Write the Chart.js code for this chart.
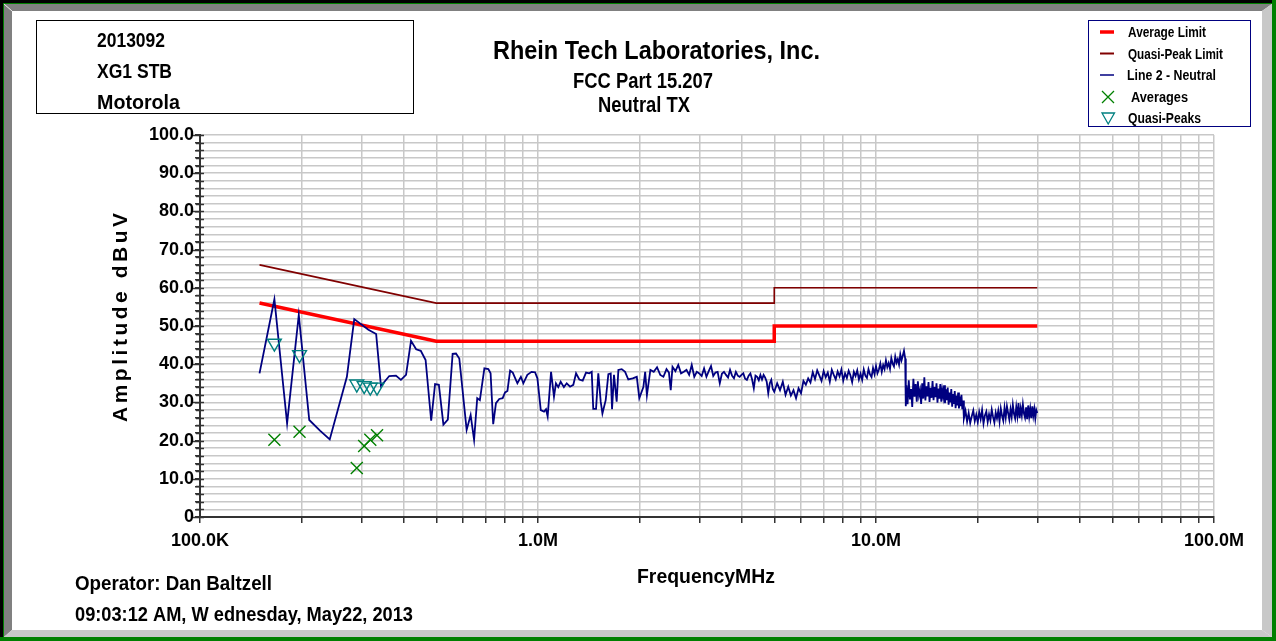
<!DOCTYPE html>
<html><head><meta charset="utf-8">
<script src="https://cdn.jsdelivr.net/npm/chart.js@4.4.1/dist/chart.umd.min.js"></script>
<style>html,body{margin:0;padding:0;background:#fff;overflow:hidden}canvas{display:block}</style>
</head><body>
<canvas id="c" width="1276" height="641"></canvas>
<script>
// ---------------- DATA ----------------
const avgLimitMHz = [0.15, 0.5, 5, 5, 30];
const avgLimitDbuv = [56, 46, 46, 50, 50];
const qpLimitMHz = [0.15, 0.5, 5, 5, 30];
const qpLimitDbuv = [66, 56, 56, 60, 60];

const measuredMHz = [0.166, 0.197, 0.291, 0.306, 0.319, 0.334];
const averagesDbuv = [20.2, 22.3, 12.8, 18.6, 20.2, 21.4];
const quasiPeaksDbuv = [45.5, 42.5, 34.8, 34.4, 34.0, 34.0];

// Line 2 - Neutral trace, [MHz, dBuV]
const neutralLow = [
 [0.150,37.6],[0.166,57.0],[0.181,24.5],[0.196,52.9],[0.2105,25.4],[0.2265,22.6],[0.242,20.3],[0.272,36.7],[0.286,51.8],[0.315,49.0],
 [0.332,47.9],[0.343,34.3],[0.363,36.9],[0.380,37.0],[0.393,35.9],[0.407,37.2],[0.421,46.1],[0.436,43.9],[0.450,43.5],[0.465,41.1],
 [0.483,25.2],[0.496,34.8],[0.509,34.6],[0.525,24.2],[0.541,25.5],[0.559,42.7],[0.572,42.8],[0.585,41.5],[0.615,22.8],[0.632,26.7],
 [0.647,20.2],[0.661,31.1],[0.673,30.6],[0.694,38.9],[0.713,38.7],[0.724,37.6],[0.737,24.3],[0.751,29.8],[0.768,30.9],[0.786,31.1],
 [0.799,32.6],[0.812,33.0],[0.827,38.3],[0.842,37.8],[0.869,35.0],[0.890,36.7],[0.905,35.0],[0.930,37.2],[0.957,38.0],[0.980,37.9],
 [0.996,36.3]
];
const neutralMid = [
 [1.019,28.0],[1.042,27.6],[1.056,28.2],[1.068,26.3],[1.093,38.0],[1.115,31.5],[1.130,35.0],[1.148,34.0],[1.167,35.4],[1.193,34.0],
 [1.216,35.0],[1.244,34.1],[1.272,34.6],[1.296,37.6],[1.325,36.0],[1.356,35.7],[1.387,37.8],[1.418,37.6],[1.442,38.0],[1.457,28.3],
 [1.485,28.3],[1.508,37.6],[1.533,30.2],[1.551,27.1],[1.586,30.6],[1.615,37.4],[1.641,37.6],[1.656,28.2],[1.678,37.2],[1.709,30.2],
 [1.729,38.5],[1.769,38.7],[1.810,38.0],[1.850,36.0],[1.906,36.3],[1.960,36.7],[1.994,31.1],
 [2.05,34.0],[2.075,38.0],[2.10,31.9],[2.15,38.5],[2.20,38.0],[2.25,39.2],[2.30,37.2],[2.35,36.7],[2.40,38.7],[2.44,37.8],
 [2.47,33.2],[2.50,39.3],[2.55,38.2],[2.60,39.8],[2.65,37.6],[2.70,38.0],[2.75,38.5],[2.80,37.2],[2.85,39.8],[2.90,36.7],
 [2.95,38.0],[3.00,37.6],[3.05,36.9],[3.10,38.9],[3.15,36.7],[3.20,38.2],[3.25,39.5],[3.30,36.9],[3.35,37.8],[3.40,38.0],
 [3.45,35.0],[3.50,37.5],[3.55,38.0],[3.60,37.2],[3.65,36.5],[3.70,38.5],[3.75,37.0],[3.80,36.3],[3.85,38.0],[3.90,37.0],
 [3.95,36.7],[4.00,37.2],[4.05,37.6],[4.10,36.2],[4.15,35.9],[4.20,37.0],[4.25,37.6],[4.30,36.0],[4.35,33.7],[4.40,37.0],
 [4.45,36.7],[4.50,35.8],[4.55,37.2],[4.60,36.0],[4.65,37.2],[4.70,36.5],[4.75,35.4],[4.80,32.4],[4.85,35.0],[4.90,35.9],
 [4.95,33.5]
];
const neutralHigh = [
 [5.0,32.8],[5.1,35.0],[5.2,33.2],[5.3,35.4],[5.4,32.0],[5.5,34.1],[5.6,31.8],[5.7,33.2],[5.8,31.1],[5.9,33.7],
 [6.0,32.4],[6.1,35.6],[6.2,34.6],[6.3,36.3],[6.4,35.2],[6.5,37.9],[6.6,36.1],[6.7,38.4],[6.8,37.0],[6.9,35.6],
 [7.0,38.2],[7.1,36.6],[7.2,37.8],[7.3,35.4],[7.4,38.5],[7.5,37.2],[7.6,36.0],[7.7,38.1],[7.8,36.8],[7.9,38.6],
 [8.0,35.7],[8.1,37.6],[8.2,36.4],[8.3,38.3],[8.4,37.1],[8.5,35.3],[8.6,38.0],[8.7,36.9],[8.8,38.4],[8.9,36.0],
 [9.0,37.5],[9.1,35.9],[9.2,38.6],[9.3,37.0],[9.4,36.4],[9.5,38.7],[9.6,37.3],[9.7,36.6],[9.8,39.0],[9.9,37.4],
 [10.0,39.5],[10.1,37.6],[10.2,38.6],[10.3,40.2],[10.4,38.0],[10.5,39.8],[10.6,38.7],[10.7,41.0],[10.8,39.2],[10.9,40.3],
 [11.0,38.8],[11.1,41.6],[11.2,40.1],[11.3,39.4],[11.4,42.0],[11.5,40.4],[11.6,41.3],[11.7,39.9],[11.8,42.6],[11.9,41.0],
 [12.0,42.2],[12.1,43.5],[12.2,41.5],[12.25,29.0],
 [12.3,34.5],[12.4,29.5],[12.5,35.8],[12.6,30.8],[12.7,33.5],[12.8,28.8],[12.9,36.2],[13.0,31.5],[13.1,34.8],[13.2,30.2],
 [13.3,35.5],[13.4,31.8],[13.5,33.2],[13.6,29.6],[13.7,35.0],[13.8,31.0],[13.9,36.6],[14.0,30.5],[14.1,34.2],[14.2,31.6],
 [14.3,35.3],[14.4,30.1],[14.5,33.8],[14.6,31.2],[14.7,35.6],[14.8,30.6],[14.9,34.0],[15.0,31.4],[15.1,35.0],[15.2,29.9],
 [15.3,33.6],[15.4,31.0],[15.5,34.8],[15.6,30.2],[15.7,33.2],[15.8,31.5],[15.9,34.5],[16.0,29.8],[16.1,33.4],[16.2,30.6],
 [16.3,33.9],[16.4,29.4],[16.5,32.6],[16.6,30.0],[16.7,33.5],[16.8,28.9],[16.9,32.2],[17.0,29.6],[17.1,33.0],[17.2,28.5],
 [17.3,31.8],[17.4,29.2],[17.5,32.6],[17.6,28.4],[17.7,31.5],[17.8,29.0],[17.9,32.0],[18.0,28.2],[18.1,30.5],[18.2,25.8],
 [18.4,27.8],[18.6,25.0],[18.8,27.2],[19.0,24.6],[19.2,26.4],[19.4,27.9],[19.6,25.1],[19.8,26.8],[20.0,24.8],[20.2,27.5],
 [20.4,25.6],[20.6,28.0],[20.8,24.5],[21.0,26.6],[21.2,27.6],[21.4,24.9],[21.6,26.9],[21.8,25.3],[22.0,28.1],[22.2,26.2],
 [22.4,24.7],[22.6,27.3],[22.8,25.8],[23.0,27.8],[23.2,25.0],[23.4,28.4],[23.6,26.5],[23.8,25.2],[24.0,28.6],[24.2,26.0],
 [24.4,29.0],[24.6,27.2],[24.8,25.5],[25.0,28.2],[25.2,26.2],[25.4,29.4],[25.6,27.0],[25.8,25.8],[26.0,28.8],[26.2,26.4],
 [26.4,29.8],[26.6,25.9],[26.8,28.5],[27.0,26.6],[27.2,29.5],[27.4,27.1],[27.6,26.0],[27.8,28.7],[28.0,25.6],[28.2,29.2],
 [28.4,26.3],[28.6,28.4],[28.8,25.9],[29.0,29.0],[29.2,26.5],[29.4,28.3],[29.6,25.8],[29.8,28.0],[30.0,27.2]
];

const xGridMHz = [0.1,0.2,0.3,0.4,0.5,0.6,0.7,0.8,0.9,1,2,3,4,5,6,7,8,9,10,20,30,40,50,60,70,80,90,100];
const xDecadeMHz = [0.1, 1, 10, 100];
const xDecadeLabels = ['100.0K', '1.0M', '10.0M', '100.0M'];
const yTickLabels = ['0','10.0','20.0','30.0','40.0','50.0','60.0','70.0','80.0','90.0','100.0'];

const infoLines = ['2013092', 'XG1 STB', 'Motorola'];
const titleLines = ['Rhein Tech Laboratories, Inc.', 'FCC Part 15.207', 'Neutral TX'];
const legendLabels = ['Average Limit', 'Quasi-Peak Limit', 'Line 2 - Neutral', 'Averages', 'Quasi-Peaks'];
const xAxisTitle = 'FrequencyMHz';
const yAxisTitle = 'Amplitude dBuV';
const footerLines = ['Operator: Dan Baltzell', '09:03:12 AM, W ednesday, May22, 2013'];

// ---------------- STYLE ----------------
const FONT = '"Liberation Sans", Arial, Helvetica, sans-serif';
const C_AVG = '#ff0000', C_QP = '#800000', C_LINE = '#000080', C_AVGPT = '#008000', C_QPPT = '#008080';

const toXY = (xs, ys) => xs.map((x, i) => ({x: x, y: ys[i]}));
const pairs = (arr) => arr.map(p => ({x: p[0], y: p[1]}));

function drawFit(ctx, text, left, baseline, size, width, color) {
  ctx.save();
  ctx.font = 'bold ' + size + 'px ' + FONT;
  ctx.fillStyle = color || '#000';
  ctx.textAlign = 'left';
  ctx.textBaseline = 'alphabetic';
  if ('letterSpacing' in ctx) ctx.letterSpacing = '0px';
  const w = ctx.measureText(text).width;
  if (w > width) {
    ctx.fillText(text, left, baseline, width);
  } else {
    if ('letterSpacing' in ctx && text.length > 1) ctx.letterSpacing = ((width - w) / (text.length - 1)) + 'px';
    ctx.fillText(text, left, baseline);
  }
  ctx.restore();
}

const framePlugin = {
  id: 'frame',
  beforeDraw(chart) {
    const ctx = chart.ctx, W = chart.width, H = chart.height;
    ctx.save();
    ctx.fillStyle = '#ffffff'; ctx.fillRect(0, 0, W, H);
    ctx.fillStyle = '#000000';
    ctx.fillRect(0, 0, W, 3); ctx.fillRect(0, 0, 3, H);
    ctx.fillStyle = '#008000';
    ctx.fillRect(3, 3, W - 3, 1); ctx.fillRect(3, 3, 1, H - 3);
    ctx.fillRect(W - 4, 0, 4, H); ctx.fillRect(0, H - 4, W, 4);
    ctx.fillStyle = '#808080';
    ctx.beginPath(); ctx.moveTo(4, 4); ctx.lineTo(W - 4, 4); ctx.lineTo(W - 14, 11); ctx.lineTo(12, 11); ctx.closePath(); ctx.fill();
    ctx.beginPath(); ctx.moveTo(4, 4); ctx.lineTo(12, 11); ctx.lineTo(12, H - 11); ctx.lineTo(4, H - 4); ctx.closePath(); ctx.fill();
    ctx.fillStyle = '#c8c8c8';
    ctx.beginPath(); ctx.moveTo(W - 4, 4); ctx.lineTo(W - 4, H - 4); ctx.lineTo(W - 14, H - 11); ctx.lineTo(W - 14, 11); ctx.closePath(); ctx.fill();
    ctx.beginPath(); ctx.moveTo(4, H - 4); ctx.lineTo(W - 4, H - 4); ctx.lineTo(W - 14, H - 11); ctx.lineTo(12, H - 11); ctx.closePath(); ctx.fill();
    ctx.strokeStyle = '#e8e8e8'; ctx.lineWidth = 1;
    ctx.beginPath(); ctx.moveTo(4, 4); ctx.lineTo(12, 11); ctx.stroke();
    ctx.restore();
  },
  afterDraw(chart) {
    const ctx = chart.ctx;
    ctx.save();
    const ys = chart.scales.y, xa = chart.chartArea.left;
    ctx.strokeStyle = '#333'; ctx.lineWidth = 1.5;
    ys.ticks.forEach(t => {
      const py = Math.round(ys.getPixelForValue(t.value)) + 0.5;
      const len = (t.value % 10 === 0) ? 7 : 4;
      ctx.beginPath(); ctx.moveTo(xa - len, py); ctx.lineTo(xa + 4, py); ctx.stroke();
    });
    // info box
    ctx.strokeStyle = '#000'; ctx.lineWidth = 1;
    ctx.strokeRect(36.5, 20.5, 377, 93);
    drawFit(ctx, infoLines[0], 97, 47, 21, 68);
    drawFit(ctx, infoLines[1], 97, 78, 21, 75);
    drawFit(ctx, infoLines[2], 97, 109, 21, 83);
    // title
    drawFit(ctx, titleLines[0], 493, 59, 26, 327);
    drawFit(ctx, titleLines[1], 573, 88, 22, 140);
    drawFit(ctx, titleLines[2], 598, 112, 22, 92);
    // legend
    ctx.strokeStyle = '#000080'; ctx.lineWidth = 1;
    ctx.strokeRect(1088.5, 20.5, 162, 106);
    ctx.lineCap = 'butt';
    ctx.strokeStyle = C_AVG; ctx.lineWidth = 3.5;
    ctx.beginPath(); ctx.moveTo(1100, 32); ctx.lineTo(1114, 32); ctx.stroke();
    ctx.strokeStyle = C_QP; ctx.lineWidth = 2;
    ctx.beginPath(); ctx.moveTo(1100, 53.5); ctx.lineTo(1114, 53.5); ctx.stroke();
    ctx.strokeStyle = C_LINE; ctx.lineWidth = 1.5;
    ctx.beginPath(); ctx.moveTo(1100, 75); ctx.lineTo(1114, 75); ctx.stroke();
    ctx.strokeStyle = C_AVGPT; ctx.lineWidth = 1.3;
    ctx.beginPath(); ctx.moveTo(1102, 91); ctx.lineTo(1114, 103); ctx.moveTo(1114, 91); ctx.lineTo(1102, 103); ctx.stroke();
    ctx.strokeStyle = C_QPPT; ctx.lineWidth = 1.3;
    ctx.beginPath(); ctx.moveTo(1102, 113); ctx.lineTo(1114.5, 113); ctx.lineTo(1108.2, 124); ctx.closePath(); ctx.stroke();
    drawFit(ctx, legendLabels[0], 1128, 37, 14, 78);
    drawFit(ctx, legendLabels[1], 1128, 58.5, 14, 95);
    drawFit(ctx, legendLabels[2], 1127, 80, 14, 89);
    drawFit(ctx, legendLabels[3], 1131, 102, 14, 57);
    drawFit(ctx, legendLabels[4], 1128, 123, 14, 73);
    // axis titles
    drawFit(ctx, xAxisTitle, 637, 583, 21, 138);
    ctx.save();
    ctx.translate(127, 422); ctx.rotate(-Math.PI / 2);
    drawFit(ctx, yAxisTitle, 0, 0, 21, 209);
    ctx.restore();
    // footer
    drawFit(ctx, footerLines[0], 75, 590, 21, 197);
    drawFit(ctx, footerLines[1], 75, 621, 21, 338);
    ctx.restore();
  }
};

const tickFont = {family: FONT, size: 18, weight: 'bold'};

new Chart(document.getElementById('c'), {
  type: 'scatter',
  data: {
    datasets: [
      {label: legendLabels[0], data: toXY(avgLimitMHz, avgLimitDbuv), showLine: true, borderColor: C_AVG, borderWidth: 3.5, pointRadius: 0, order: 4},
      {label: legendLabels[1], data: toXY(qpLimitMHz, qpLimitDbuv), showLine: true, borderColor: C_QP, borderWidth: 1.6, pointRadius: 0, order: 5},
      {label: legendLabels[2], data: pairs(neutralLow).concat(pairs(neutralMid), pairs(neutralHigh)), showLine: true, borderColor: C_LINE, borderWidth: 1.8, pointRadius: 0, tension: 0, order: 3},
      {label: legendLabels[3], data: toXY(measuredMHz, averagesDbuv), showLine: false, pointStyle: 'crossRot', pointRadius: 8.5, borderColor: C_AVGPT, pointBorderColor: C_AVGPT, pointBorderWidth: 1.4, order: 1},
      {label: legendLabels[4], data: toXY(measuredMHz, quasiPeaksDbuv), showLine: false, pointStyle: 'triangle', pointRotation: 180, pointRadius: 8, borderColor: C_QPPT, pointBorderColor: C_QPPT, pointBackgroundColor: 'rgba(0,0,0,0)', pointBorderWidth: 1.4, order: 0}
    ]
  },
  options: {
    responsive: false, animation: false, devicePixelRatio: 1,
    layout: {padding: {left: 0, right: 62, top: 135, bottom: 0}},
    plugins: {legend: {display: false}, tooltip: {enabled: false}, title: {display: false}},
    scales: {
      x: {
        type: 'logarithmic', min: 0.1, max: 100, position: 'bottom',
        afterBuildTicks: (s) => { s.ticks = xGridMHz.map(v => ({value: v})); },
        afterFit: (s) => { s.height = 124; },
        ticks: {autoSkip: false, maxRotation: 0, minRotation: 0, padding: 7, color: '#000', font: tickFont,
          callback: (v) => { const i = xDecadeMHz.indexOf(v); return i >= 0 ? xDecadeLabels[i] : ''; }},
        grid: {color: '#c8c8c8', lineWidth: 1.5, tickLength: 6, tickColor: '#333', drawTicks: true},
        border: {display: true, color: '#333', width: 2}
      },
      y: {
        type: 'linear', min: 0, max: 100, position: 'left',
        afterFit: (s) => { s.width = 200; },
        ticks: {stepSize: 2, autoSkip: false, maxTicksLimit: 100, padding: 1, color: '#000', font: tickFont,
          callback: (v) => (v % 10 === 0 ? yTickLabels[v / 10] : '')},
        grid: {color: '#c8c8c8', lineWidth: 1.5, tickLength: 5, tickColor: '#333', drawTicks: true},
        border: {display: true, color: '#333', width: 2}
      }
    }
  },
  plugins: [framePlugin]
});
</script>
</body></html>
